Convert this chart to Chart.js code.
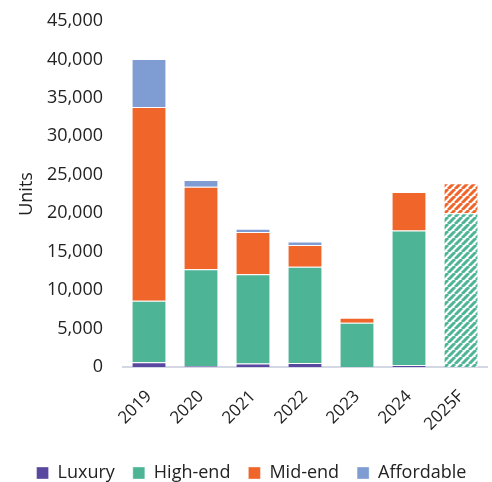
<!DOCTYPE html>
<html>
<head>
<meta charset="utf-8">
<script src="https://cdn.jsdelivr.net/npm/chart.js@4"></script>
<style>
  html, body { margin: 0; padding: 0; background: #fff; }
  #wrap { width: 492px; height: 482px; }
</style>
</head>
<body>
<div id="wrap"><canvas id="chart"></canvas></div>
<script>
const years = ['2019', '2020', '2021', '2022', '2023', '2024', '2025F'];
const luxury = [600, 100, 450, 520, 0, 200, 0];
const highEnd = [8000, 12600, 11600, 12500, 5730, 17550, 20000];
const midEnd = [25200, 10750, 5500, 2850, 650, 5000, 3900];
const affordable = [6250, 850, 420, 450, 0, 0, 0];
const yTicks = [0, 5000, 10000, 15000, 20000, 25000, 30000, 35000, 40000, 45000];

// stripes for the forecast bar
function hatch(color) {
  const c = document.createElement('canvas');
  c.width = 7; c.height = 7;
  const g = c.getContext('2d');
  g.fillStyle = '#fff';
  g.fillRect(0, 0, 7, 7);
  g.strokeStyle = color;
  g.lineWidth = 3;
  g.beginPath();
  for (let k = -7; k <= 14; k += 7) {
    g.moveTo(k, 7);
    g.lineTo(k + 7, 0);
  }
  g.stroke();
  return g.createPattern(c, 'repeat');
}

const colors = {
  luxury: '#5a48a0',
  high: '#4db596',
  mid: '#f06529',
  aff: '#7f9dd3'
};

function fills(color) {
  return years.map((y, i) => i === years.length - 1 ? hatch(color) : color);
}

Chart.defaults.font.family = '"Open Sans", "Noto Sans", sans-serif';
Chart.defaults.color = '#222';

new Chart(document.getElementById('chart'), {
  type: 'bar',
  data: {
    labels: years,
    datasets: [
      { label: 'Luxury', data: luxury, backgroundColor: colors.luxury },
      { label: 'High-end', data: highEnd, backgroundColor: fills(colors.high) },
      { label: 'Mid-end', data: midEnd, backgroundColor: fills(colors.mid) },
      { label: 'Affordable', data: affordable, backgroundColor: colors.aff }
    ]
  },
  options: {
    responsive: true,
    maintainAspectRatio: false,
    animation: false,
    layout: { padding: { top: 21, right: 5, left: 16, bottom: -10 } },
    datasets: {
      bar: {
        barPercentage: 0.67,
        categoryPercentage: 1,
        borderColor: 'rgba(255,255,255,0.35)',
        borderWidth: 1
      }
    },
    scales: {
      x: {
        stacked: true,
        grid: { display: false },
        border: { display: true, color: '#d3d8e4', width: 2 },
        ticks: {
          minRotation: 45,
          maxRotation: 45,
          font: { size: 17 },
          padding: 11.5
        }
      },
      y: {
        stacked: true,
        min: 0,
        max: 45000,
        afterBuildTicks: axis => { axis.ticks = yTicks.map(v => ({ value: v })); },
        afterFit: axis => { axis.width = 107; },
        // tick marks hidden, their length only spaces the labels from the bars
        grid: { display: false, drawTicks: true, tickLength: 20 },
        border: { display: false },
        ticks: {
          font: { size: 18 },
          padding: 0,
          callback: v => v.toLocaleString('en-US')
        },
        title: {
          display: true,
          text: 'Units',
          font: { size: 18 },
          padding: { top: 0, bottom: 6 }
        }
      }
    },
    plugins: {
      legend: {
        position: 'bottom',
        labels: {
          boxWidth: 12,
          boxHeight: 12,
          font: { size: 18 },
          padding: 18,
          color: '#222'
        }
      },
      tooltip: { enabled: false }
    }
  }
});
</script>
</body>
</html>
